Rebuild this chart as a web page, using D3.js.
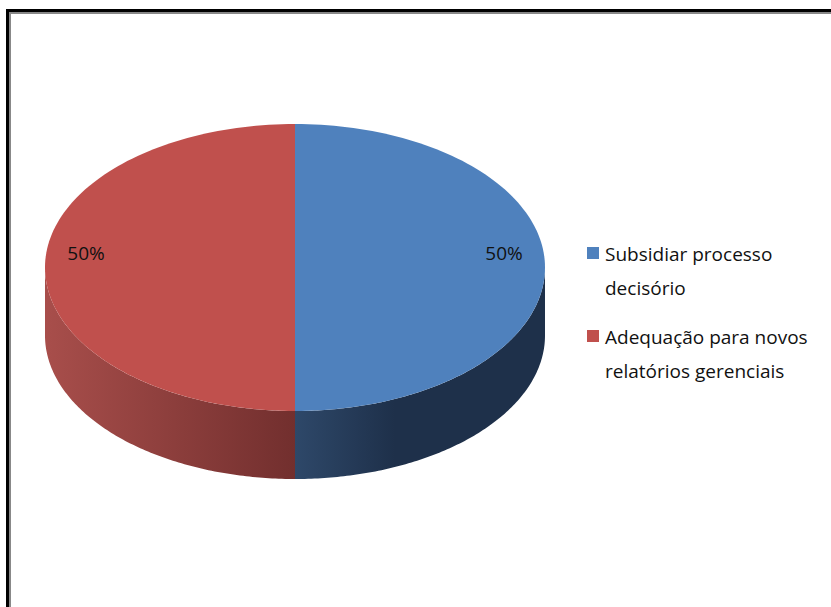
<!DOCTYPE html>
<html><head><meta charset="utf-8">
<script src="https://cdn.jsdelivr.net/npm/d3@7"></script>
<style>body{margin:0;background:#fff;overflow:hidden}</style></head>
<body>
<svg id="c" width="831" height="607"></svg>
<script>
const categories = ["Subsidiar processo decisório", "Adequação para novos relatórios gerenciais"];
const legendLines = [["Subsidiar processo", "decisório"], ["Adequação para novos", "relatórios gerenciais"]];
const values = [50, 50];
const labels = ["50%", "50%"];
const topColors = ["#4f81bd", "#c0504d"];
const sideLight = ["#2e4869", "#a84e4b"];
const sideDark = ["#1e304a", "#722f2e"];

const svg = d3.select("#c");
const font = "'Open Sans', sans-serif";

// frame
svg.append("rect").attr("x", 7.5).attr("y", 10.5).attr("width", 900).attr("height", 700)
  .attr("fill", "none").attr("stroke", "#000").attr("stroke-width", 3);
svg.append("rect").attr("x", 10).attr("y", 13).attr("width", 900).attr("height", 700)
  .attr("fill", "none").attr("stroke", "#888").attr("stroke-width", 2);

const cx = 295, cy = 267.5, rx = 250, ry = 143.5, depth = 68;
const px = a => cx + rx * Math.sin(a);
const py = a => cy - ry * Math.cos(a);

const arcs = d3.pie().sort(null).value(d => d)(values);
const defs = svg.append("defs");

function arcPoints(a0, a1, dy) {
  const n = 120, pts = [];
  for (let i = 0; i <= n; i++) {
    const a = a0 + (a1 - a0) * i / n;
    pts.push([px(a), py(a) + dy]);
  }
  return pts;
}

// side walls (front half: PI/2 .. 3PI/2)
arcs.forEach((d, i) => {
  const s = Math.max(d.startAngle, Math.PI / 2), e = Math.min(d.endAngle, 3 * Math.PI / 2);
  if (e <= s) return;
  const g = defs.append("linearGradient").attr("id", "side" + i)
    .attr("gradientUnits", "userSpaceOnUse")
    .attr("x1", px(s)).attr("x2", px(e)).attr("y1", 0).attr("y2", 0);
  if (i === 0) {
    g.append("stop").attr("offset", "0%").attr("stop-color", sideDark[i]);
    g.append("stop").attr("offset", "60%").attr("stop-color", sideDark[i]);
    g.append("stop").attr("offset", "100%").attr("stop-color", sideLight[i]);
  } else {
    g.append("stop").attr("offset", "0%").attr("stop-color", sideDark[i]);
    g.append("stop").attr("offset", "100%").attr("stop-color", sideLight[i]);
  }
  const top = arcPoints(s, e, 0);
  const bot = arcPoints(e, s, depth);
  svg.append("path").attr("d", d3.line()(top.concat(bot)) + "Z")
    .attr("fill", "url(#side" + i + ")");
});

// top faces
arcs.forEach((d, i) => {
  const pts = [[cx, cy]].concat(arcPoints(d.startAngle, d.endAngle, 0));
  svg.append("path").attr("d", d3.line()(pts) + "Z").attr("fill", topColors[i]);
});

// data labels
arcs.forEach((d, i) => {
  const m = (d.startAngle + d.endAngle) / 2;
  svg.append("text")
    .attr("x", cx + rx * 0.836 * Math.sin(m))
    .attr("y", cy - ry * 0.836 * Math.cos(m) - 8)
    .attr("text-anchor", "middle")
    .attr("font-family", font).attr("font-size", 19).attr("fill", "#111")
    .text(labels[i]);
});

// legend
const lg = svg.append("g");
const itemY = [253, 336];
legendLines.forEach((lines, i) => {
  lg.append("rect").attr("x", 587).attr("y", itemY[i] - 6).attr("width", 12).attr("height", 12)
    .attr("fill", topColors[i]);
  lines.forEach((t, j) => {
    lg.append("text").attr("x", 605).attr("y", itemY[i] + 8 + j * 34)
      .attr("font-family", font).attr("font-size", 19).attr("fill", "#111").text(t);
  });
});
</script>
</body></html>
